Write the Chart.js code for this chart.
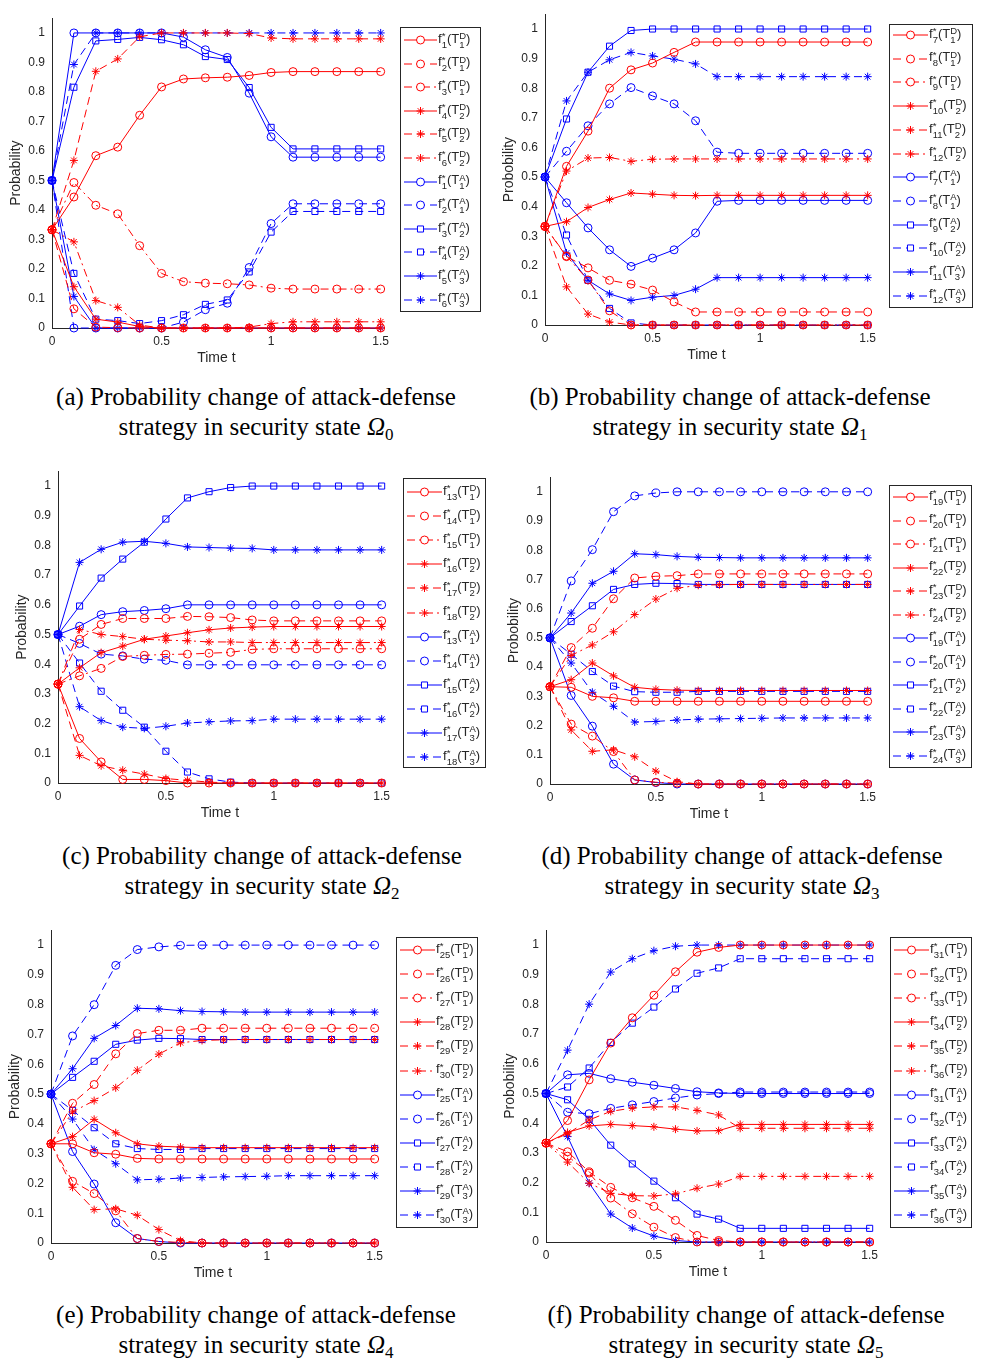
<!DOCTYPE html>
<html>
<head>
<meta charset="utf-8">
<script src="https://cdn.jsdelivr.net/npm/chart.js"></script>
<style>
  body { margin: 0; background: #fff; }
  #fig { position: relative; width: 992px; height: 1363px; overflow: hidden; }
  .panel { position: absolute; }
  .legend { position: absolute; border: 1px solid #262626; background: #fff; box-sizing: border-box; }
  .row { position: absolute; left: 0; height: 20px; display: flex; align-items: center; }
  .row canvas { display: block; }
  .lab { font-family: "Liberation Sans", Arial, sans-serif; font-size: 13px; color: #262626; white-space: nowrap; }
  .ss { display: inline-block; vertical-align: -5px; font-size: 9.5px; line-height: 8.5px; text-align: left; }
  .ss span { display: block; }
  .caption { position: absolute; width: 560px; text-align: center; font-family: "Liberation Serif", "Times New Roman", serif;
             font-size: 25px; line-height: 30px; color: #000; }
  .caption sub { font-size: 17px; vertical-align: -5px; line-height: 0; }
</style>
</head>
<body>
<div id="fig"></div>
<script>
// time axis and ticks
const timeValues = [0, 0.1, 0.2, 0.3, 0.4, 0.5, 0.6, 0.7, 0.8, 0.9, 1.0, 1.1, 1.2, 1.3, 1.4, 1.5];
const xTicks = [0, 0.5, 1, 1.5];
const yTicks = [0, 0.1, 0.2, 0.3, 0.4, 0.5, 0.6, 0.7, 0.8, 0.9, 1];

// state Omega0: defender f1..f6, attacker f1..f6
const omega0Def = [
  [0.333, 0.444, 0.584, 0.613, 0.721, 0.817, 0.844, 0.848, 0.850, 0.856, 0.866, 0.869, 0.869, 0.869, 0.869, 0.869],
  [0.333, 0.065, 0.003, 0.001, 0, 0, 0, 0, 0, 0, 0, 0, 0, 0, 0, 0],
  [0.333, 0.493, 0.416, 0.387, 0.279, 0.185, 0.157, 0.152, 0.150, 0.146, 0.135, 0.132, 0.132, 0.132, 0.132, 0.132],
  [0.333, 0.140, 0.030, 0.020, 0.005, 0, 0, 0, 0, 0, 0, 0, 0, 0, 0, 0],
  [0.333, 0.568, 0.870, 0.912, 0.987, 1.0, 1.0, 1.0, 1.0, 0.998, 0.983, 0.980, 0.980, 0.980, 0.980, 0.980],
  [0.333, 0.292, 0.093, 0.070, 0.010, 0, 0, 0, 0, 0.003, 0.015, 0.021, 0.021, 0.021, 0.021, 0.021]
];
const omega0Att = [
  [0.5, 1.0, 1.0, 1.0, 1.0, 1.0, 0.986, 0.943, 0.917, 0.796, 0.648, 0.579, 0.579, 0.579, 0.579, 0.579],
  [0.5, 0, 0, 0, 0, 0, 0.020, 0.062, 0.084, 0.205, 0.354, 0.421, 0.421, 0.421, 0.421, 0.421],
  [0.5, 0.816, 0.973, 0.978, 0.985, 0.977, 0.960, 0.920, 0.910, 0.815, 0.680, 0.607, 0.607, 0.607, 0.607, 0.607],
  [0.5, 0.185, 0.030, 0.025, 0.015, 0.025, 0.045, 0.080, 0.095, 0.190, 0.325, 0.395, 0.395, 0.395, 0.395, 0.395],
  [0.5, 0.107, 0, 0, 0, 0, 0, 0, 0, 0, 0, 0, 0, 0, 0, 0],
  [0.5, 0.893, 1.0, 1.0, 1.0, 1.0, 1.0, 1.0, 1.0, 1.0, 1.0, 1.0, 1.0, 1.0, 1.0, 1.0]
];

// state Omega1: f7..f12
const omega1Def = [
  [0.333, 0.536, 0.655, 0.800, 0.862, 0.885, 0.921, 0.956, 0.956, 0.956, 0.956, 0.956, 0.956, 0.956, 0.956, 0.956],
  [0.333, 0.231, 0.193, 0.151, 0.138, 0.118, 0.078, 0.044, 0.044, 0.044, 0.044, 0.044, 0.044, 0.044, 0.044, 0.044],
  [0.333, 0.233, 0.152, 0.048, 0, 0, 0, 0, 0, 0, 0, 0, 0, 0, 0, 0],
  [0.333, 0.349, 0.397, 0.424, 0.446, 0.442, 0.438, 0.437, 0.438, 0.438, 0.438, 0.438, 0.438, 0.438, 0.438, 0.438],
  [0.333, 0.129, 0.037, 0.010, 0, 0, 0, 0, 0, 0, 0, 0, 0, 0, 0, 0],
  [0.333, 0.520, 0.564, 0.566, 0.553, 0.560, 0.561, 0.561, 0.561, 0.561, 0.561, 0.561, 0.561, 0.561, 0.561, 0.561]
];
const omega1Att = [
  [0.5, 0.413, 0.328, 0.254, 0.198, 0.226, 0.254, 0.311, 0.418, 0.421, 0.421, 0.421, 0.421, 0.421, 0.421, 0.421],
  [0.5, 0.587, 0.673, 0.747, 0.802, 0.774, 0.747, 0.690, 0.584, 0.580, 0.580, 0.580, 0.580, 0.580, 0.580, 0.580],
  [0.5, 0.696, 0.854, 0.942, 0.995, 1.0, 1.0, 1.0, 1.0, 1.0, 1.0, 1.0, 1.0, 1.0, 1.0, 1.0],
  [0.5, 0.304, 0.151, 0.056, 0.007, 0, 0, 0, 0, 0, 0, 0, 0, 0, 0, 0],
  [0.5, 0.243, 0.151, 0.105, 0.083, 0.094, 0.100, 0.121, 0.160, 0.160, 0.160, 0.160, 0.160, 0.160, 0.160, 0.160],
  [0.5, 0.757, 0.854, 0.896, 0.921, 0.909, 0.898, 0.882, 0.839, 0.839, 0.839, 0.839, 0.839, 0.839, 0.839, 0.839]
];

// state Omega2: f13..f18
const omega2Def = [
  [0.333, 0.150, 0.071, 0.012, 0.012, 0.008, 0, 0, 0, 0, 0, 0, 0, 0, 0, 0],
  [0.333, 0.484, 0.534, 0.554, 0.554, 0.554, 0.561, 0.560, 0.557, 0.549, 0.546, 0.546, 0.546, 0.546, 0.546, 0.546],
  [0.333, 0.361, 0.386, 0.426, 0.430, 0.433, 0.434, 0.437, 0.440, 0.450, 0.452, 0.452, 0.452, 0.452, 0.452, 0.452],
  [0.333, 0.388, 0.439, 0.461, 0.484, 0.495, 0.506, 0.516, 0.522, 0.525, 0.527, 0.527, 0.527, 0.527, 0.527, 0.527],
  [0.333, 0.093, 0.058, 0.043, 0.030, 0.015, 0.009, 0.003, 0, 0, 0, 0, 0, 0, 0, 0],
  [0.333, 0.517, 0.500, 0.493, 0.484, 0.481, 0.479, 0.475, 0.475, 0.473, 0.473, 0.473, 0.473, 0.473, 0.473, 0.473]
];
const omega2Att = [
  [0.5, 0.528, 0.567, 0.577, 0.581, 0.587, 0.600, 0.600, 0.600, 0.600, 0.600, 0.600, 0.600, 0.600, 0.600, 0.600],
  [0.5, 0.470, 0.434, 0.428, 0.417, 0.413, 0.398, 0.398, 0.398, 0.398, 0.398, 0.398, 0.398, 0.398, 0.398, 0.398],
  [0.5, 0.596, 0.690, 0.754, 0.811, 0.889, 0.960, 0.981, 0.995, 1.0, 1.0, 1.0, 1.0, 1.0, 1.0, 1.0],
  [0.5, 0.404, 0.309, 0.245, 0.188, 0.107, 0.037, 0.014, 0.003, 0, 0, 0, 0, 0, 0, 0],
  [0.5, 0.743, 0.787, 0.811, 0.814, 0.807, 0.795, 0.793, 0.791, 0.790, 0.785, 0.785, 0.785, 0.785, 0.785, 0.785],
  [0.5, 0.257, 0.210, 0.188, 0.184, 0.191, 0.202, 0.206, 0.209, 0.210, 0.215, 0.215, 0.215, 0.215, 0.215, 0.215]
];

// state Omega3: f19..f24
const omega3Def = [
  [0.333, 0.331, 0.300, 0.295, 0.283, 0.283, 0.283, 0.283, 0.283, 0.283, 0.283, 0.283, 0.283, 0.283, 0.283, 0.283],
  [0.333, 0.467, 0.533, 0.634, 0.705, 0.711, 0.713, 0.719, 0.719, 0.719, 0.719, 0.719, 0.719, 0.719, 0.719, 0.719],
  [0.333, 0.205, 0.164, 0.111, 0.014, 0.006, 0.003, 0, 0, 0, 0, 0, 0, 0, 0, 0],
  [0.333, 0.357, 0.414, 0.370, 0.331, 0.324, 0.321, 0.320, 0.320, 0.320, 0.320, 0.320, 0.320, 0.320, 0.320, 0.320],
  [0.333, 0.185, 0.112, 0.117, 0.093, 0.044, 0.008, 0, 0, 0, 0, 0, 0, 0, 0, 0],
  [0.333, 0.440, 0.476, 0.521, 0.580, 0.633, 0.670, 0.680, 0.682, 0.683, 0.683, 0.683, 0.683, 0.683, 0.683, 0.683]
];
const omega3Att = [
  [0.5, 0.303, 0.198, 0.068, 0.014, 0.005, 0, 0, 0, 0, 0, 0, 0, 0, 0, 0],
  [0.5, 0.695, 0.802, 0.932, 0.986, 0.996, 1.0, 1.0, 1.0, 1.0, 1.0, 1.0, 1.0, 1.0, 1.0, 1.0],
  [0.5, 0.556, 0.610, 0.666, 0.683, 0.687, 0.686, 0.683, 0.683, 0.683, 0.683, 0.683, 0.683, 0.683, 0.683, 0.683],
  [0.5, 0.444, 0.385, 0.335, 0.316, 0.314, 0.314, 0.317, 0.317, 0.317, 0.317, 0.317, 0.317, 0.317, 0.317, 0.317],
  [0.5, 0.585, 0.687, 0.728, 0.788, 0.785, 0.779, 0.776, 0.775, 0.774, 0.774, 0.774, 0.774, 0.774, 0.774, 0.774],
  [0.5, 0.414, 0.314, 0.266, 0.212, 0.214, 0.219, 0.222, 0.223, 0.224, 0.225, 0.226, 0.226, 0.226, 0.226, 0.226]
];

// state Omega4: f25..f30
const omega4Def = [
  [0.333, 0.333, 0.303, 0.298, 0.284, 0.282, 0.282, 0.282, 0.282, 0.282, 0.282, 0.282, 0.282, 0.282, 0.282, 0.282],
  [0.333, 0.469, 0.532, 0.635, 0.703, 0.714, 0.714, 0.721, 0.721, 0.721, 0.721, 0.721, 0.721, 0.721, 0.721, 0.721],
  [0.333, 0.207, 0.166, 0.108, 0.015, 0.005, 0.002, 0, 0, 0, 0, 0, 0, 0, 0, 0],
  [0.333, 0.357, 0.415, 0.370, 0.333, 0.325, 0.322, 0.320, 0.320, 0.320, 0.320, 0.320, 0.320, 0.320, 0.320, 0.320],
  [0.333, 0.187, 0.112, 0.115, 0.093, 0.045, 0.008, 0, 0, 0, 0, 0, 0, 0, 0, 0],
  [0.333, 0.440, 0.478, 0.521, 0.580, 0.634, 0.672, 0.680, 0.682, 0.683, 0.683, 0.683, 0.683, 0.683, 0.683, 0.683]
];
const omega4Att = [
  [0.5, 0.307, 0.198, 0.068, 0.015, 0.005, 0, 0, 0, 0, 0, 0, 0, 0, 0, 0],
  [0.5, 0.695, 0.800, 0.932, 0.985, 0.994, 0.999, 1.0, 1.0, 1.0, 1.0, 1.0, 1.0, 1.0, 1.0, 1.0],
  [0.5, 0.556, 0.610, 0.667, 0.681, 0.687, 0.686, 0.683, 0.683, 0.683, 0.683, 0.683, 0.683, 0.683, 0.683, 0.683],
  [0.5, 0.445, 0.387, 0.333, 0.317, 0.314, 0.314, 0.317, 0.317, 0.317, 0.317, 0.317, 0.317, 0.317, 0.317, 0.317],
  [0.5, 0.585, 0.687, 0.730, 0.788, 0.786, 0.780, 0.777, 0.776, 0.775, 0.775, 0.775, 0.775, 0.775, 0.775, 0.775],
  [0.5, 0.416, 0.313, 0.266, 0.212, 0.214, 0.218, 0.220, 0.222, 0.223, 0.224, 0.226, 0.226, 0.226, 0.226, 0.226]
];

// state Omega5: f31..f36
const omega5Def = [
  [0.333, 0.409, 0.546, 0.670, 0.755, 0.831, 0.910, 0.976, 0.992, 1.0, 1.0, 1.0, 1.0, 1.0, 1.0, 1.0],
  [0.333, 0.304, 0.236, 0.184, 0.149, 0.120, 0.073, 0.022, 0.005, 0, 0, 0, 0, 0, 0, 0],
  [0.333, 0.289, 0.232, 0.148, 0.095, 0.050, 0.015, 0, 0, 0, 0, 0, 0, 0, 0, 0],
  [0.333, 0.369, 0.391, 0.396, 0.392, 0.388, 0.380, 0.374, 0.375, 0.396, 0.396, 0.396, 0.396, 0.396, 0.396, 0.396],
  [0.333, 0.365, 0.411, 0.440, 0.451, 0.455, 0.455, 0.443, 0.428, 0.383, 0.383, 0.383, 0.383, 0.383, 0.383, 0.383],
  [0.333, 0.269, 0.198, 0.164, 0.156, 0.155, 0.162, 0.181, 0.195, 0.221, 0.221, 0.221, 0.221, 0.221, 0.221, 0.221]
];
const omega5Att = [
  [0.5, 0.563, 0.568, 0.550, 0.538, 0.528, 0.517, 0.506, 0.502, 0.500, 0.500, 0.500, 0.500, 0.500, 0.500, 0.500],
  [0.5, 0.437, 0.432, 0.450, 0.462, 0.473, 0.485, 0.495, 0.500, 0.505, 0.505, 0.505, 0.505, 0.505, 0.505, 0.505],
  [0.5, 0.479, 0.413, 0.326, 0.263, 0.205, 0.149, 0.094, 0.077, 0.046, 0.046, 0.046, 0.046, 0.046, 0.046, 0.046],
  [0.5, 0.522, 0.586, 0.672, 0.737, 0.791, 0.852, 0.905, 0.923, 0.954, 0.954, 0.954, 0.954, 0.954, 0.954, 0.954],
  [0.5, 0.355, 0.198, 0.094, 0.047, 0.020, 0.005, 0, 0, 0, 0, 0, 0, 0, 0, 0],
  [0.5, 0.646, 0.801, 0.909, 0.954, 0.981, 0.996, 1.0, 1.0, 1.0, 1.0, 1.0, 1.0, 1.0, 1.0, 1.0]
];

// line / marker look of the 12 curves in every panel
const RED = '#ff0000', BLUE = '#0000ff';
const DASH = [8, 5], DASHDOT = [8, 4, 2, 4];
const seriesStyles = [
  { color: RED, dash: [], marker: 'circle' },
  { color: RED, dash: DASH, marker: 'circle' },
  { color: RED, dash: DASHDOT, marker: 'circle' },
  { color: RED, dash: [], marker: 'star' },
  { color: RED, dash: DASH, marker: 'star' },
  { color: RED, dash: DASHDOT, marker: 'star' },
  { color: BLUE, dash: [], marker: 'circle' },
  { color: BLUE, dash: DASH, marker: 'circle' },
  { color: BLUE, dash: [], marker: 'rect' },
  { color: BLUE, dash: DASH, marker: 'rect' },
  { color: BLUE, dash: [], marker: 'star' },
  { color: BLUE, dash: DASH, marker: 'star' }
];
const markerRadius = { circle: 4, rect: 4.3, star: 4 };
const defSub = [1, 1, 1, 2, 2, 2];
const attSub = [1, 1, 2, 2, 3, 3];

const AXIS = '#262626';
const panels = [
  { L: 52, R: 383, B: 328, T1: 25, yTitle: 'Probability', first: 1, def: omega0Def, att: omega0Att,
    legend: { x: 400, y: 27, w: 81, h: 285, row0: 40, step: 23.6 }, cap: { cx: 256, y: 382 }, tag: 'a', state: 0 },
  { L: 545, R: 870, B: 324.7, T1: 20.7, yTitle: 'Probobility', first: 7, def: omega1Def, att: omega1Att,
    legend: { x: 889, y: 24, w: 84, h: 284, row0: 35, step: 23.7 }, cap: { cx: 730, y: 382 }, tag: 'b', state: 1 },
  { L: 57.7, R: 383.3, B: 783.3, T1: 478.3, yTitle: 'Probability', first: 13, def: omega2Def, att: omega2Att,
    legend: { x: 403, y: 478, w: 83, h: 290, row0: 492, step: 24.1 }, cap: { cx: 262, y: 841 }, tag: 'c', state: 2 },
  { L: 550, R: 870, B: 784.3, T1: 484, yTitle: 'Probobility', first: 19, def: omega3Def, att: omega3Att,
    legend: { x: 889, y: 485, w: 83, h: 283, row0: 497, step: 23.5 }, cap: { cx: 742, y: 841 }, tag: 'd', state: 3 },
  { L: 51, R: 376.7, B: 1243.3, T1: 937.7, yTitle: 'Probability', first: 25, def: omega4Def, att: omega4Att,
    legend: { x: 396, y: 937, w: 82, h: 291, row0: 950, step: 24.1 }, cap: { cx: 256, y: 1300 }, tag: 'e', state: 4 },
  { L: 546, R: 871.7, B: 1242.7, T1: 937.7, yTitle: 'Probobility', first: 31, def: omega5Def, att: omega5Att,
    legend: { x: 890, y: 937, w: 82, h: 291, row0: 950, step: 24.1 }, cap: { cx: 746, y: 1300 }, tag: 'f', state: 5 }
];

const fig = document.getElementById('fig');
const Y_MAX = 1.05, AXIS_W = 52, AXIS_H = 39, PAD_T = 6, PAD_R = 12;

function labelHtml(k, team, sub) {
  return 'f<span class="ss"><span>*</span><span>' + k + '</span></span>(T<span class="ss"><span>' +
    team + '</span><span>' + sub + '</span></span>)';
}

function drawSample(cv, st) {
  const c = cv.getContext('2d');
  const w = cv.width, h = cv.height, cy = h / 2, cx = w / 2;
  c.strokeStyle = st.color;
  c.lineWidth = 1;
  c.setLineDash(st.dash);
  c.beginPath(); c.moveTo(0, cy); c.lineTo(w, cy); c.stroke();
  c.setLineDash([]);
  const r = markerRadius[st.marker];
  c.fillStyle = '#fff';
  c.beginPath();
  if (st.marker === 'circle') {
    c.arc(cx, cy, r, 0, Math.PI * 2); c.fill(); c.stroke();
  } else if (st.marker === 'rect') {
    const s = r * Math.SQRT1_2;
    c.rect(cx - s, cy - s, 2 * s, 2 * s); c.fill(); c.stroke();
  } else {
    for (let a = 0; a < 4; a++) {
      const ang = a * Math.PI / 4;
      c.moveTo(cx - Math.cos(ang) * r, cy - Math.sin(ang) * r);
      c.lineTo(cx + Math.cos(ang) * r, cy + Math.sin(ang) * r);
    }
    c.stroke();
  }
}

panels.forEach(p => {
  const unit = (p.B - p.T1);
  const top = p.B - unit * Y_MAX;
  const left = Math.round(p.L - AXIS_W);
  const cw = Math.round(p.R - p.L + AXIS_W + PAD_R);
  const ch = Math.round(p.B - top + PAD_T + AXIS_H);

  const canvas = document.createElement('canvas');
  canvas.className = 'panel';
  canvas.width = cw; canvas.height = ch;
  canvas.style.left = left + 'px';
  canvas.style.top = Math.round(top - PAD_T) + 'px';
  canvas.style.width = cw + 'px'; canvas.style.height = ch + 'px';
  fig.appendChild(canvas);

  const rows = p.def.concat(p.att);
  const datasets = rows.map((vals, i) => {
    const st = seriesStyles[i];
    return {
      data: timeValues.map((t, j) => ({ x: t, y: vals[j] })),
      borderColor: st.color,
      borderWidth: 1,
      borderDash: st.dash,
      pointStyle: st.marker,
      pointRadius: markerRadius[st.marker],
      pointBorderColor: st.color,
      pointBackgroundColor: 'rgba(0,0,0,0)',
      pointBorderWidth: 1,
      tension: 0,
      clip: false,
      fill: false
    };
  });

  const tickFont = { family: '"Liberation Sans", Arial, sans-serif', size: 12 };
  const titleFont = { family: '"Liberation Sans", Arial, sans-serif', size: 14 };

  new Chart(canvas.getContext('2d'), {
    type: 'line',
    data: { datasets },
    options: {
      responsive: false,
      animation: false,
      devicePixelRatio: 1,
      layout: { padding: { left: 0, top: PAD_T, right: PAD_R, bottom: 0 } },
      plugins: { legend: { display: false }, tooltip: { enabled: false } },
      scales: {
        x: {
          type: 'linear', min: 0, max: 1.5,
          afterBuildTicks: s => { s.ticks = xTicks.map(v => ({ value: v })); },
          afterFit: s => { s.height = AXIS_H; },
          grid: { display: false, drawTicks: false },
          border: { color: AXIS, width: 1 },
          ticks: { padding: 6, maxRotation: 0, autoSkip: false, color: AXIS, font: tickFont, callback: v => String(v) },
          title: { display: true, text: 'Time t', color: AXIS, font: titleFont, padding: 0 }
        },
        y: {
          type: 'linear', min: 0, max: Y_MAX,
          afterBuildTicks: s => { s.ticks = yTicks.map(v => ({ value: v })); },
          afterFit: s => { s.width = AXIS_W; },
          grid: { display: false, drawTicks: false },
          border: { color: AXIS, width: 1 },
          ticks: { padding: 7, autoSkip: false, color: AXIS, font: tickFont, callback: v => String(v) },
          title: { display: true, text: p.yTitle, color: AXIS, font: titleFont, padding: { top: 8, bottom: 0 } }
        }
      }
    }
  });

  // legend box
  const lg = p.legend;
  const box = document.createElement('div');
  box.className = 'legend';
  box.style.left = lg.x + 'px'; box.style.top = lg.y + 'px';
  box.style.width = lg.w + 'px'; box.style.height = lg.h + 'px';
  fig.appendChild(box);
  const sampleW = p.first < 7 ? 33 : 35;
  seriesStyles.forEach((st, i) => {
    const row = document.createElement('div');
    row.className = 'row';
    row.style.top = (lg.row0 + i * lg.step - lg.y - 10 - 1) + 'px';
    row.style.left = '3px';
    const cv = document.createElement('canvas');
    cv.width = sampleW; cv.height = 12;
    row.appendChild(cv);
    drawSample(cv, st);
    const lab = document.createElement('span');
    lab.className = 'lab';
    lab.style.marginLeft = '1px';
    const k = p.first + (i % 6);
    lab.innerHTML = i < 6 ? labelHtml(k, 'D', defSub[i]) : labelHtml(k, 'A', attSub[i - 6]);
    row.appendChild(lab);
    box.appendChild(row);
  });

  // caption
  const cap = document.createElement('div');
  cap.className = 'caption';
  cap.style.left = (p.cap.cx - 280) + 'px';
  cap.style.top = p.cap.y + 'px';
  cap.innerHTML = '(' + p.tag + ') Probability change of attack-defense<br>strategy in security state <i>&Omega;</i><sub>' + p.state + '</sub>';
  fig.appendChild(cap);
});
</script>
</body>
</html>
